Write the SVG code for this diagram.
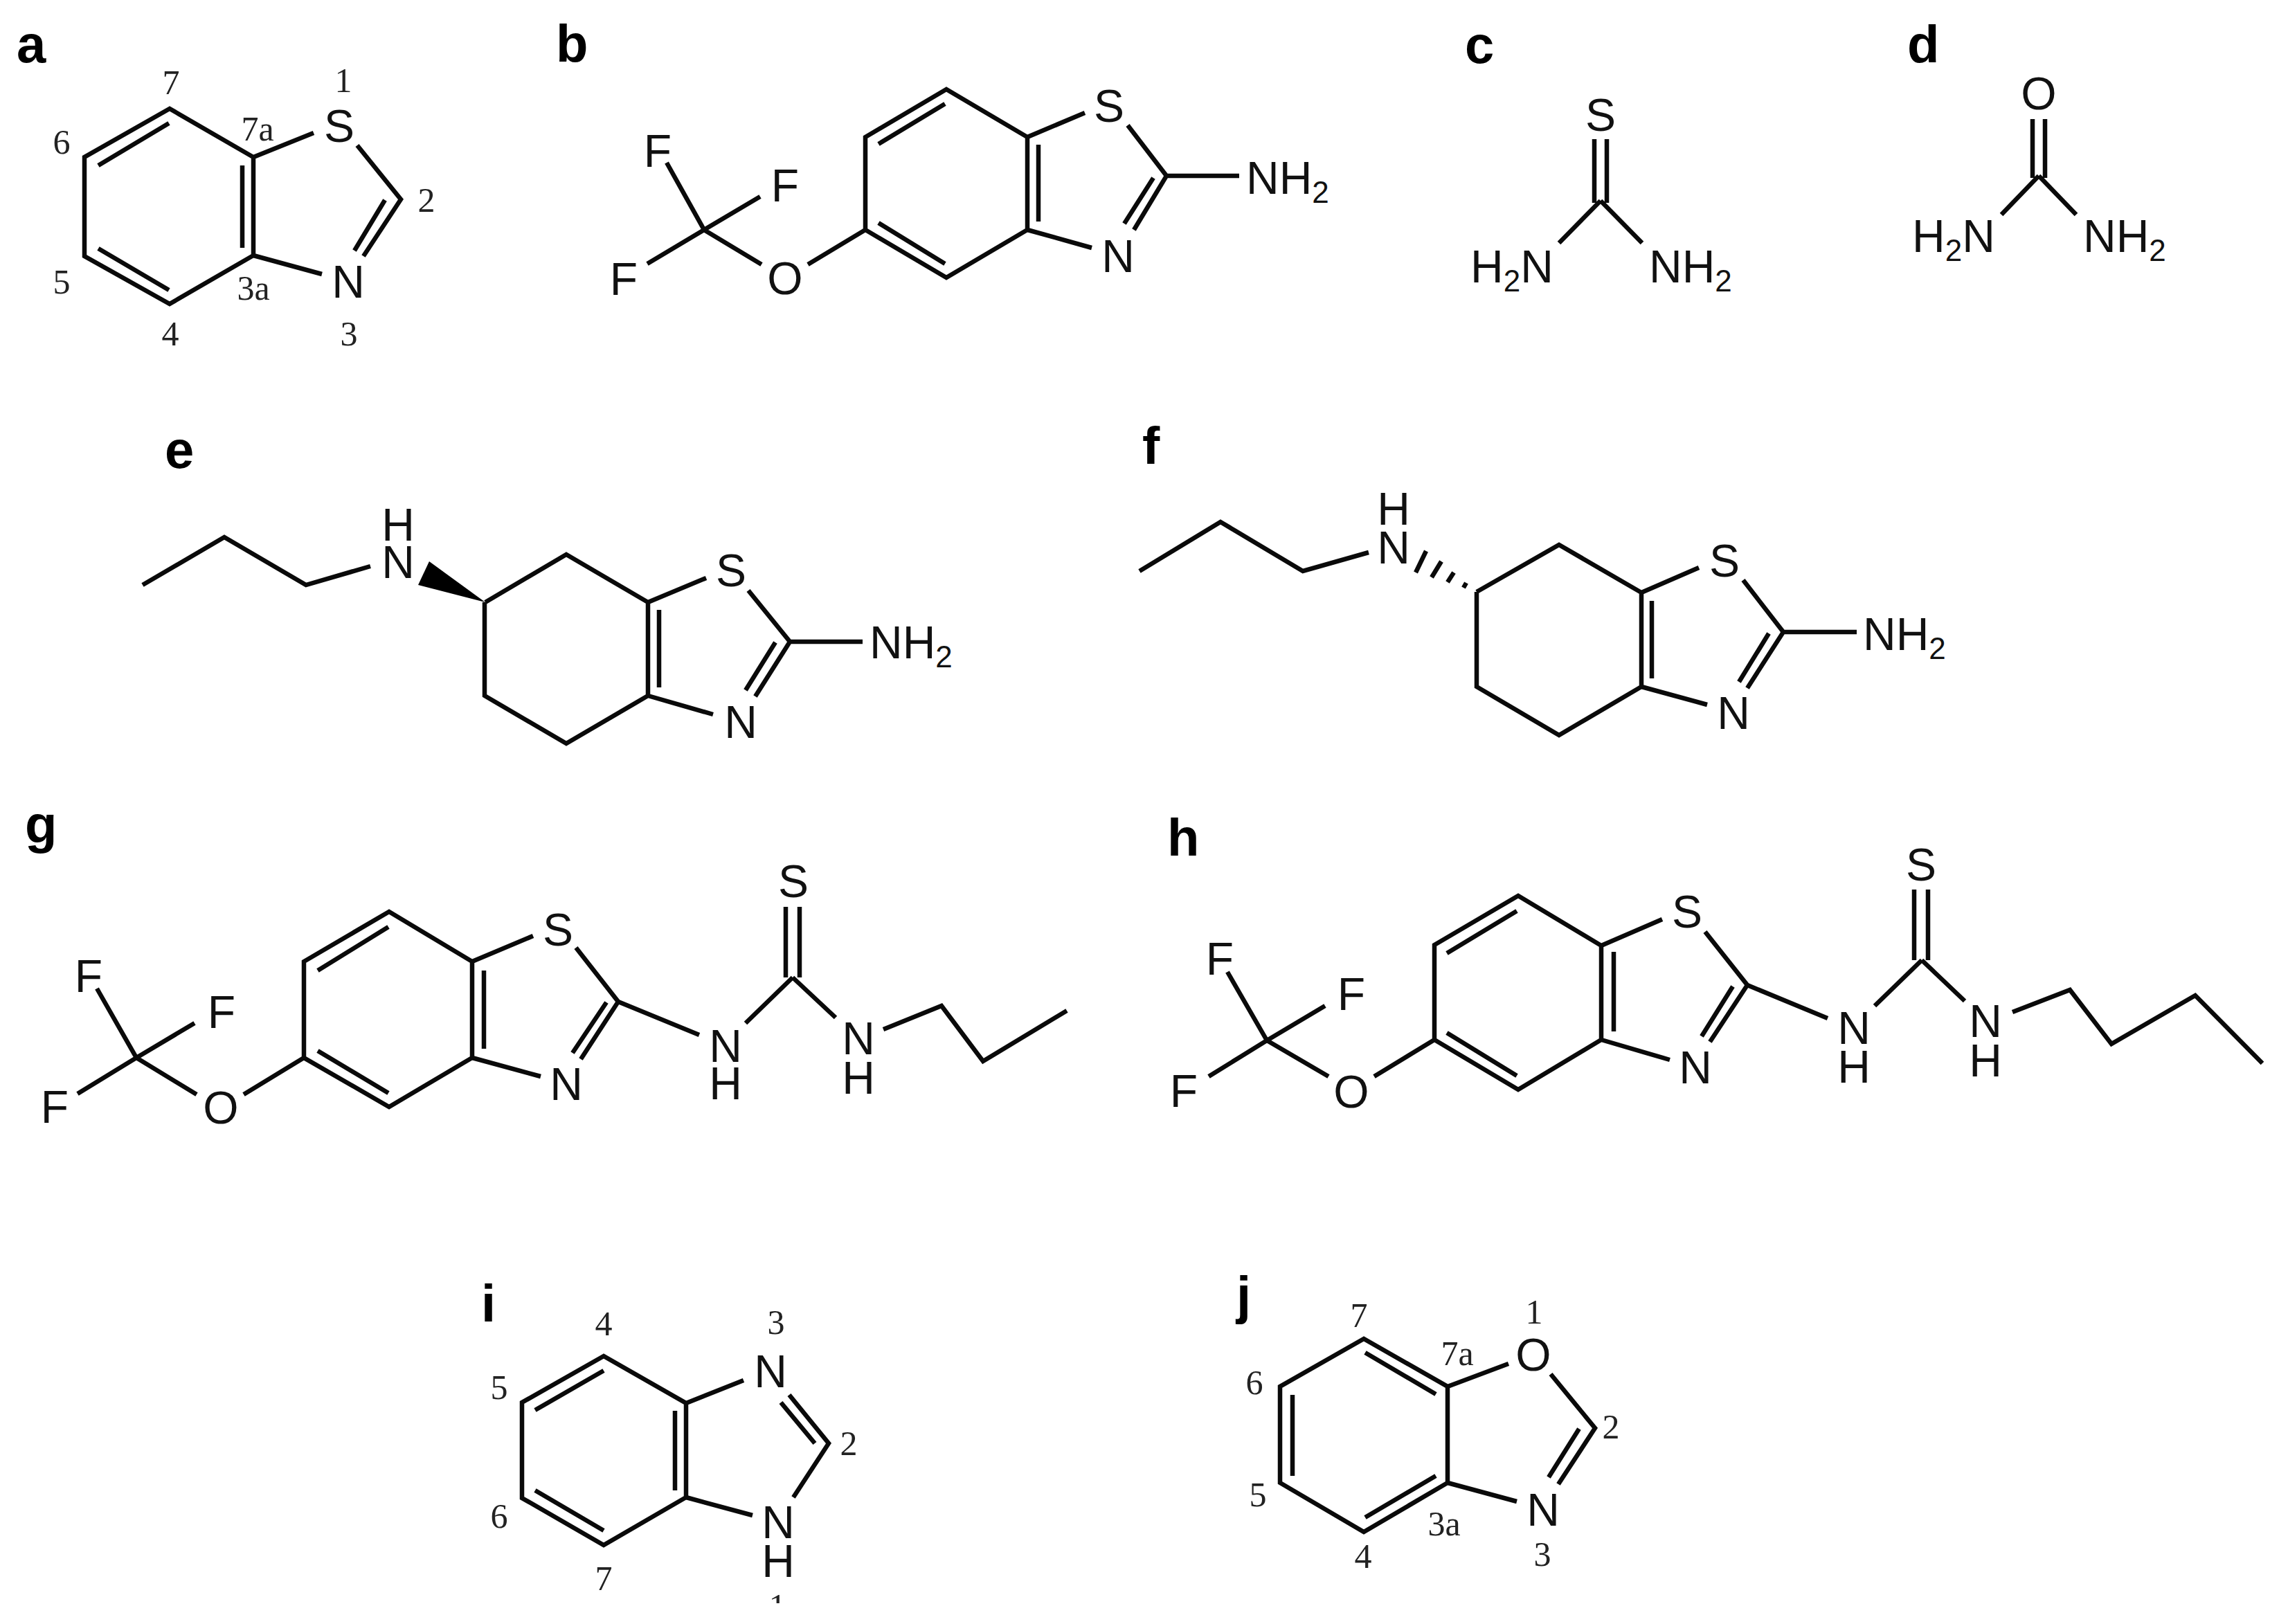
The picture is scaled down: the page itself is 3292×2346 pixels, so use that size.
<svg xmlns="http://www.w3.org/2000/svg" width="3292" height="2346" viewBox="0 0 3292 2346">
<style>
.b{fill:none;stroke:#0a0a0a;stroke-width:6.5;stroke-linejoin:miter;stroke-linecap:butt}
.t{font-family:"Liberation Sans",Arial,sans-serif;font-size:66px;fill:#111;text-anchor:middle}
.s{font-family:"Liberation Sans",Arial,sans-serif;font-size:66px;fill:#111}
.u{font-size:44px}
.n{font-family:"Liberation Serif","Times New Roman",serif;font-size:50px;fill:#222;text-anchor:middle}
.p{font-family:"Liberation Sans",Arial,sans-serif;font-size:76px;font-weight:700;fill:#000}
</style>
<defs><clipPath id="cut"><rect x="1090" y="2290" width="70" height="26"/></clipPath></defs>
<rect width="3292" height="2346" fill="#fff"/>
<g id="connectors">
<path id="bonds-a" class="b" d="M245 157L122 227V370L245 439L366 369V227ZM244 178L142 239M350 239V358M142 359L244 419M366 227L453 192M516 210L579 288L525 370M556 289L512 362M366 369L465 396"/>
<path id="bonds-b" class="b" d="M1367 129L1250 198V332L1367 401L1484 332V198ZM1365 150L1269 208M1500 209V320M1269 322L1365 381M1484 198L1567 163M1629 181L1685 254L1638 332M1666 257L1624 323M1484 332L1577 358M1685 254H1790M1017 332L963 235M1017 332L1098 284M1017 332L935 381M1017 332L1100 382M1167 382L1250 332"/>
<path id="bonds-c" class="b" d="M2303 201V293M2321 201V293M2312 290L2252 351M2312 290L2372 351"/>
<path id="bonds-d" class="b" d="M2936 172V257M2954 172V257M2945 254L2891 310M2945 254L2999 310"/>
<path id="bonds-e" class="b" d="M206 845L324 776L442 845L535 818M701 870L818 801L936 870V1005L818 1074L700 1005V870M952 881V993M936 870L1020 835M1081 853L1141 927L1091 1006M1120 928L1077 997M936 1005L1030 1032M1141 927H1246"/>
<polygon id="wedge-e" points="701,870 620,811 604,845" fill="#000"/>
<path id="bonds-f" class="b" d="M1646 825L1763 754L1882 825L1977 798M2133 855L2252 787L2371 856V992L2252 1062L2133 992V855M2386 868V980M2371 856L2454 820M2518 838L2576 913L2524 994M2555 915L2512 985M2371 992L2466 1018M2576 913H2682"/>
<path id="hash-f" class="b" d="M2060 796L2045 827M2082 811L2068 834M2100 827L2091 841M2118 842L2114 849"/>
<path id="bonds-g" class="b" d="M562 1317L439 1389V1528L562 1599L682 1528V1389ZM561 1339L459 1402M699 1402V1515M459 1518L561 1579M682 1389L770 1352M832 1369L893 1447L839 1530M876 1448L827 1521M682 1528L781 1555M893 1447L1010 1495M1135 1310V1412M1155 1310V1412M1145 1412L1077 1478M1145 1412L1207 1470M1276 1487L1360 1453L1420 1533L1541 1460M197 1528L140 1428M197 1528L281 1478M197 1528L112 1580M197 1528L284 1581M352 1581L439 1528"/>
<path id="bonds-h" class="b" d="M2193 1294L2072 1365V1502L2193 1574L2313 1502V1366ZM2191 1316L2090 1377M2331 1375V1490M2090 1492L2191 1554M2313 1366L2401 1328M2463 1346L2524 1423L2470 1505M2503 1425L2458 1497M2313 1502L2412 1531M2524 1423L2640 1471M2765 1285V1387M2785 1285V1387M2776 1387L2708 1453M2776 1387L2838 1446M2907 1462L2990 1430L3050 1508L3171 1438L3268 1536M1830 1503L1773 1404M1830 1503L1914 1453M1830 1503L1746 1555M1830 1503L1919 1555M1985 1555L2072 1502"/>
<path id="bonds-i" class="b" d="M872 1959L754 2026V2164L872 2232L991 2163V2027ZM872 1980L773 2037M975 2038V2153M773 2153L872 2211M991 2027L1074 1994M1140 2015L1197 2085L1146 2163M1128 2026L1177 2085M991 2163L1087 2189"/>
<path id="bonds-j" class="b" d="M1970 1934L1849 2003V2142L1970 2213L2091 2142V2003ZM1972 1954L2074 2014M1867 2015V2132M1972 2192L2074 2132M2091 2003L2179 1970M2240 1985L2304 2063L2251 2144M2281 2064L2237 2134M2091 2142L2191 2169"/>
</g>
<g id="panel-a">
<text class="p" x="24" y="90">a</text>
<text class="t" x="490" y="205">S</text><text class="t" x="503" y="430">N</text>
<text class="n" x="247" y="136">7</text><text class="n" x="496" y="133">1</text><text class="n" x="372" y="203">7a</text><text class="n" x="89" y="222">6</text><text class="n" x="616" y="306">2</text><text class="n" x="89" y="424">5</text><text class="n" x="366" y="433">3a</text><text class="n" x="246" y="499">4</text><text class="n" x="504" y="499">3</text>
</g>
<g id="panel-b">
<text class="p" x="803" y="89">b</text>
<text class="t" x="1602" y="176">S</text><text class="t" x="1615" y="393">N</text>
<text class="s" x="1800" y="280">NH<tspan class="u" dy="13">2</tspan></text>
<text class="t" x="950" y="241">F</text><text class="t" x="1134" y="291">F</text><text class="t" x="901" y="426">F</text><text class="t" x="1134" y="425">O</text>
</g>
<g id="panel-c">
<text class="p" x="2116" y="91">c</text>
<text class="t" x="2312" y="189">S</text>
<text class="s" x="2124" y="408">H<tspan class="u" dy="13">2</tspan><tspan dy="-13">N</tspan></text>
<text class="s" x="2382" y="408">NH<tspan class="u" dy="13">2</tspan></text>
</g>
<g id="panel-d">
<text class="p" x="2755" y="90">d</text>
<text class="t" x="2945" y="158">O</text>
<text class="s" x="2762" y="364">H<tspan class="u" dy="13">2</tspan><tspan dy="-13">N</tspan></text>
<text class="s" x="3009" y="364">NH<tspan class="u" dy="13">2</tspan></text>
</g>
<g id="panel-e">
<text class="p" x="238" y="676">e</text>
<text class="t" x="575" y="835">N</text><text class="t" x="575" y="781">H</text>
<text class="t" x="1056" y="847">S</text><text class="t" x="1070" y="1066">N</text>
<text class="s" x="1256" y="951">NH<tspan class="u" dy="13">2</tspan></text>
</g>
<g id="panel-f">
<text class="p" x="1650" y="670">f</text>
<text class="t" x="2013" y="814">N</text><text class="t" x="2013" y="758">H</text>
<text class="t" x="2491" y="833">S</text><text class="t" x="2504" y="1053">N</text>
<text class="s" x="2691" y="939">NH<tspan class="u" dy="13">2</tspan></text>
</g>
<g id="panel-g">
<text class="p" x="36" y="1217">g</text>
<text class="t" x="806" y="1366">S</text><text class="t" x="818" y="1589">N</text>
<text class="t" x="1048" y="1534">N</text><text class="t" x="1048" y="1588">H</text>
<text class="t" x="1146" y="1296">S</text>
<text class="t" x="1240" y="1523">N</text><text class="t" x="1240" y="1580">H</text>
<text class="t" x="128" y="1433">F</text><text class="t" x="320" y="1485">F</text><text class="t" x="79" y="1622">F</text><text class="t" x="319" y="1623">O</text>
</g>
<g id="panel-h">
<text class="p" x="1686" y="1236">h</text>
<text class="t" x="2437" y="1340">S</text><text class="t" x="2449" y="1565">N</text>
<text class="t" x="2678" y="1508">N</text><text class="t" x="2678" y="1564">H</text>
<text class="t" x="2775" y="1272">S</text>
<text class="t" x="2868" y="1498">N</text><text class="t" x="2868" y="1555">H</text>
<text class="t" x="1762" y="1408">F</text><text class="t" x="1952" y="1459">F</text><text class="t" x="1710" y="1599">F</text><text class="t" x="1952" y="1600">O</text>
</g>
<g id="panel-i">
<text class="p" x="695" y="1909">i</text>
<text class="t" x="1113" y="2004">N</text><text class="t" x="1124" y="2222">N</text><text class="t" x="1124" y="2278">H</text>
<text class="n" x="872" y="1929">4</text><text class="n" x="1121" y="1927">3</text><text class="n" x="721" y="2021">5</text><text class="n" x="1226" y="2102">2</text><text class="n" x="721" y="2207">6</text><text class="n" x="872" y="2297">7</text>
<text class="n" x="1123" y="2337" clip-path="url(#cut)">1</text>
</g>
<g id="panel-j">
<text class="p" x="1786" y="1897">j</text>
<text class="t" x="2215" y="1980">O</text><text class="t" x="2229" y="2204">N</text>
<text class="n" x="1963" y="1917">7</text><text class="n" x="2216" y="1912">1</text><text class="n" x="2105" y="1972">7a</text><text class="n" x="1812" y="2014">6</text><text class="n" x="2327" y="2078">2</text><text class="n" x="1817" y="2176">5</text><text class="n" x="2086" y="2218">3a</text><text class="n" x="1969" y="2265">4</text><text class="n" x="2228" y="2262">3</text>
</g>
</svg>
